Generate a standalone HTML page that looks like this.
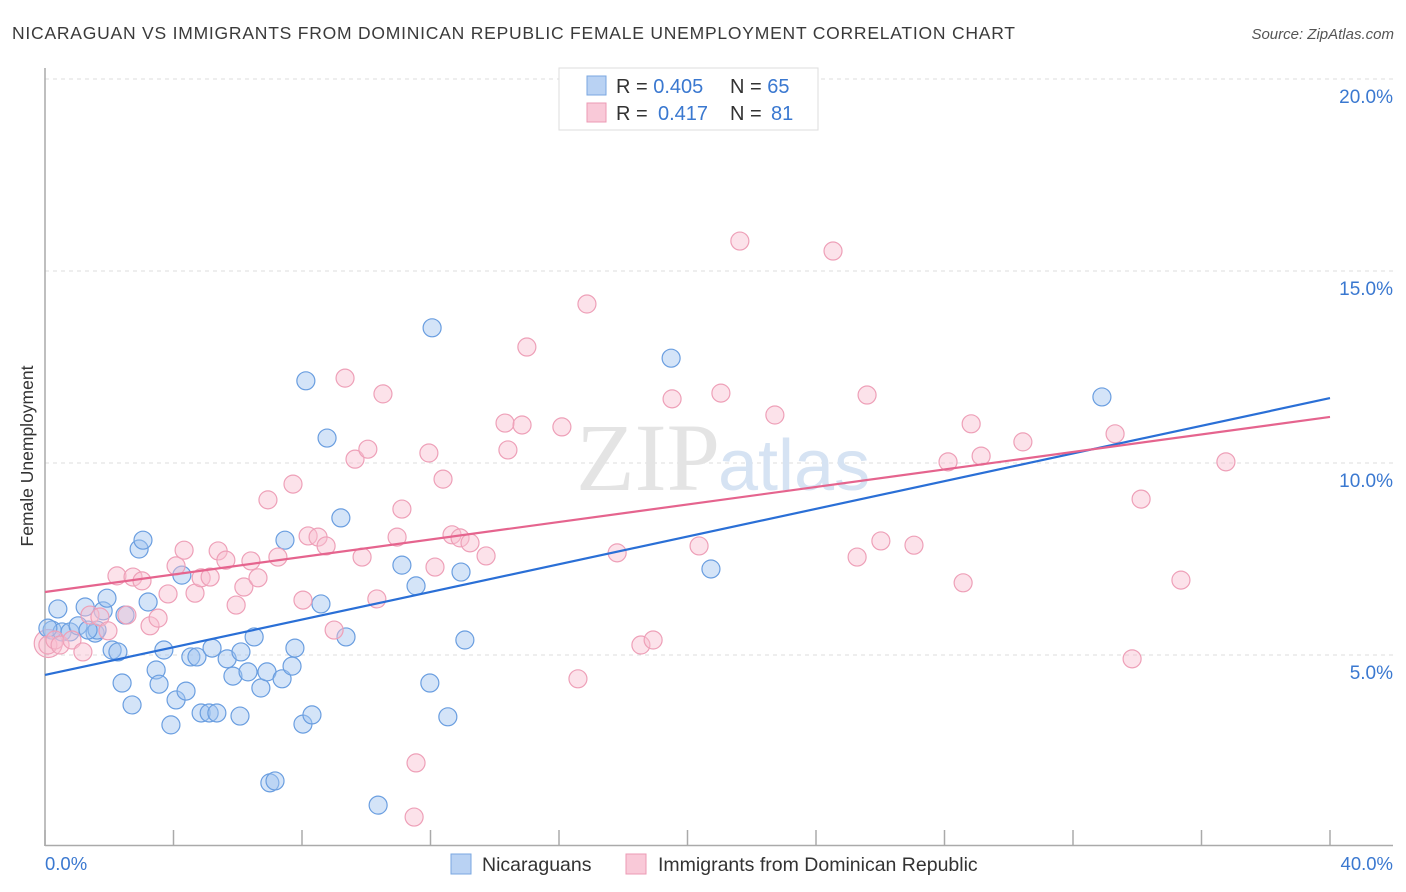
<!DOCTYPE html>
<html><head><meta charset="utf-8"><style>
body{margin:0;background:#fff;font-family:"Liberation Sans",sans-serif;}
svg{display:block}
</style></head><body>
<svg id="chart" width="1406" height="892" xmlns="http://www.w3.org/2000/svg" font-family="Liberation Sans, sans-serif">
<text x="12" y="39" font-size="17.5" fill="#3a3a3a" textLength="1003" lengthAdjust="spacing">NICARAGUAN VS IMMIGRANTS FROM DOMINICAN REPUBLIC FEMALE UNEMPLOYMENT CORRELATION CHART</text>
<text x="1394" y="39" font-size="15" fill="#555" font-style="italic" text-anchor="end">Source: ZipAtlas.com</text>
<text transform="translate(33,456) rotate(-90)" font-size="17.5" fill="#333" text-anchor="middle">Female Unemployment</text>
<g id="grid"></g>
<text x="720" y="490" font-size="96" fill="#e4e4e4" font-family="Liberation Serif, serif" text-anchor="end">ZIP</text>
<text x="718" y="490" font-size="72" fill="#d6e3f3">atlas</text>
<line x1="45" y1="68" x2="45" y2="846" stroke="#aaa" stroke-width="1.5"/>
<line x1="45" y1="845.5" x2="1393" y2="845.5" stroke="#aaa" stroke-width="1.5"/>
<g id="xticks"></g>
<g id="pts"></g>
<g id="trends"></g>
<text x="45" y="870" font-size="18.5" fill="#3a78d0">0.0%</text>
<text x="1393" y="870" font-size="18.5" fill="#3a78d0" text-anchor="end">40.0%</text>
<g>
<rect x="559" y="68" width="259" height="62" fill="#fff" stroke="#ddd"/>
<rect x="587" y="76" width="19" height="19" fill="#b9d2f3" stroke="#7aa7e0"/>
<rect x="587" y="103" width="19" height="19" fill="#f9c9d8" stroke="#ec9ab4"/>
<text x="616" y="93" font-size="20" fill="#333">R = <tspan fill="#3a78d0">0.405</tspan><tspan x="730">N = </tspan><tspan fill="#3a78d0">65</tspan></text>
<text x="616" y="120" font-size="20" fill="#333">R = <tspan x="658" fill="#3a78d0">0.417</tspan><tspan x="730">N = </tspan><tspan x="771" fill="#3a78d0">81</tspan></text>
</g>
<g>
<rect x="451" y="854" width="20" height="20" fill="#b9d2f3" stroke="#7aa7e0"/>
<text x="482" y="871" font-size="19.5" fill="#333">Nicaraguans</text>
<rect x="626" y="854" width="20" height="20" fill="#f9c9d8" stroke="#ec9ab4"/>
<text x="658" y="871" font-size="19.5" fill="#333">Immigrants from Dominican Republic</text>
</g>
</svg>
<script>
const yTicks=[5,10,15,20];
const yTickLabels=["5.0%","10.0%","15.0%","20.0%"];
const xTicks=[0,4,8,12,16,20,24,28,32,36,40];
const blueX=[0.40,0.22,0.53,0.78,1.03,1.25,1.56,1.81,1.93,1.62,2.09,2.27,2.40,2.71,2.93,3.05,3.21,3.46,3.55,3.70,3.92,4.08,4.26,4.39,4.54,4.73,4.86,5.11,5.35,5.20,5.67,5.85,6.07,6.10,6.32,6.51,6.72,6.91,7.38,7.47,7.69,7.78,8.03,8.31,8.12,8.59,8.78,9.21,9.37,7.00,7.16,10.37,11.11,11.55,11.98,12.05,12.54,12.95,13.07,19.49,20.73,32.90,0.09,1.34,2.49];
const blueY=[6.20,5.65,5.60,5.60,5.76,6.25,5.57,6.15,6.48,5.65,5.13,5.08,4.27,3.70,7.76,7.99,6.38,4.61,4.24,5.13,3.18,3.83,7.08,4.06,4.95,4.95,3.49,3.49,3.49,5.18,4.90,4.45,3.41,5.08,4.56,5.47,4.14,4.56,4.38,7.99,4.71,5.18,3.20,3.44,12.14,6.33,10.65,8.57,5.47,1.67,1.72,1.09,7.34,6.80,4.27,13.52,3.39,7.16,5.39,12.73,7.24,11.72,5.70,5.65,6.04];
const pinkX=[0.09,0.31,0.47,0.84,1.18,1.40,1.71,1.96,2.24,2.55,2.74,3.02,3.27,3.52,3.83,4.08,4.33,4.67,4.86,5.14,5.39,5.63,5.95,6.19,6.41,6.63,6.94,7.25,7.72,8.03,8.19,8.50,8.75,9.00,9.34,9.65,9.87,10.05,10.33,10.52,10.96,11.11,11.95,12.14,12.39,12.67,12.92,13.23,13.73,14.32,14.41,14.85,15.00,16.09,16.59,16.87,17.81,18.55,18.93,19.52,20.36,21.04,21.63,22.72,11.55,11.49,24.53,25.28,25.59,26.02,27.05,28.11,28.58,28.83,29.14,30.44,33.31,33.84,34.12,35.36,36.76];
const pinkY=[5.26,5.39,5.26,5.39,5.08,6.04,5.99,5.63,7.06,6.04,7.03,6.93,5.76,5.96,6.59,7.32,7.73,6.61,7.01,7.03,7.71,7.47,6.30,6.77,7.45,7.01,9.04,7.55,9.45,6.43,8.10,8.07,7.84,5.65,12.21,10.10,7.55,10.36,6.46,11.80,8.07,8.80,10.26,7.29,9.58,8.13,8.05,7.92,7.58,11.04,10.34,10.99,13.02,10.94,4.38,14.14,7.66,5.26,5.39,11.67,7.84,11.82,15.78,11.25,2.19,0.78,15.52,7.55,11.77,7.97,7.86,10.03,6.88,11.02,10.18,10.55,10.76,4.90,9.06,6.95,10.03];
const blueTrend=[4.48,11.69];
const pinkTrend=[6.64,11.20];
const NS="http://www.w3.org/2000/svg";
const sx=v=>45+v/40*1285;
const sy=v=>847-v/5*192;
function mk(t,a,p){const e=document.createElementNS(NS,t);for(const k in a)e.setAttribute(k,a[k]);p.appendChild(e);return e;}
const grid=document.getElementById('grid');
yTicks.forEach((t,i)=>{
 const l=mk('line',{x1:45,x2:1393,y1:sy(t),y2:sy(t),stroke:'#ddd','stroke-dasharray':'4,4'},grid);
 
 
 const tx=mk('text',{x:1393,y:sy(t)+24,'font-size':19,fill:'#3a78d0','text-anchor':'end'},grid);
 tx.textContent=yTickLabels[i];
 
 
});
const xt=document.getElementById('xticks');
xTicks.forEach(t=>{
 const l=mk('line',{x1:sx(t),x2:sx(t),y1:830,y2:846,stroke:'#aaa','stroke-width':1.5},xt);
 
 
});
const pts=document.getElementById('pts');
const big1=mk('circle',{cx:sx(0.1),cy:sy(5.3),r:14,fill:'rgba(248,190,208,0.45)',stroke:'#eea0b8','stroke-width':1.2},pts);


blueX.forEach((x,i)=>{
 const c=mk('circle',{cx:sx(x),cy:sy(blueY[i]),r:9,fill:'rgba(160,195,240,0.45)',stroke:'#6a9ee0','stroke-width':1.2},pts);
 
 
});
pinkX.forEach((x,i)=>{
 const c=mk('circle',{cx:sx(x),cy:sy(pinkY[i]),r:9,fill:'rgba(248,190,208,0.45)',stroke:'#eea0b8','stroke-width':1.2},pts);
 
 
});
const tr=document.getElementById('trends');
const bl=mk('line',{x1:sx(0),y1:sy(blueTrend[0]),x2:sx(40),y2:sy(blueTrend[1]),stroke:'#2a6fd6','stroke-width':2.2},tr);


const pl=mk('line',{x1:sx(0),y1:sy(pinkTrend[0]),x2:sx(40),y2:sy(pinkTrend[1]),stroke:'#e5648e','stroke-width':2.2},tr);


</script>
</body></html>
